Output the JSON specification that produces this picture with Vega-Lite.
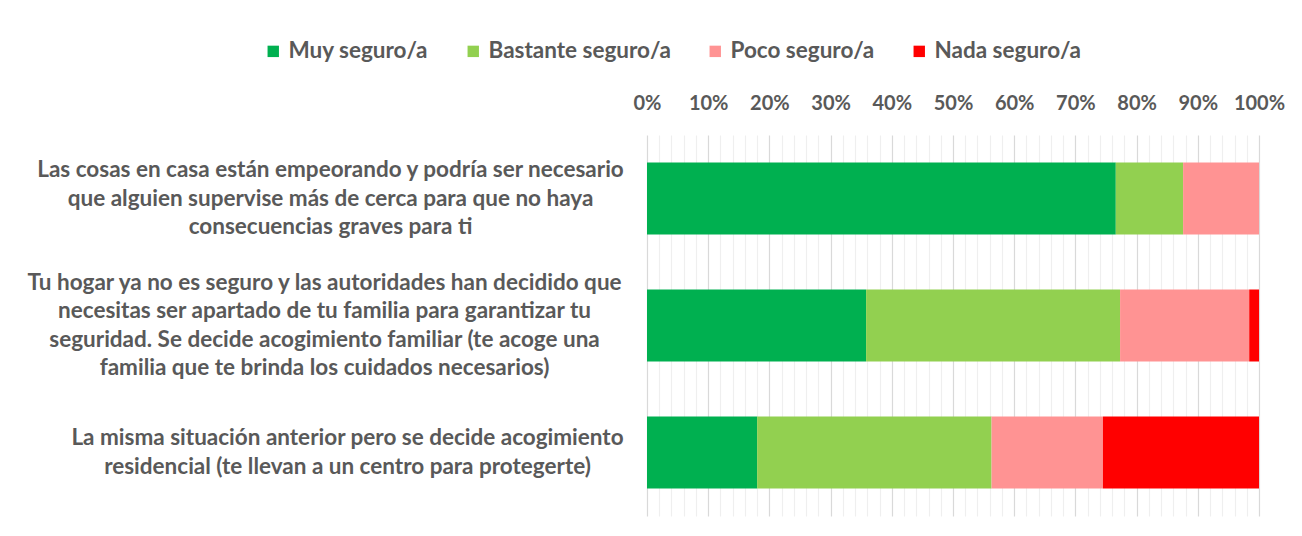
{
  "$schema": "https://vega.github.io/schema/vega-lite/v6.json",
  "autosize": "none",
  "width": 612,
  "height": 381,
  "padding": {"left": 647, "top": 135, "right": 43, "bottom": 20},
  "background": "white",
  "config": {"view": {"stroke": null}, "font": "Lato"},
  "data": {
    "values": [
      {"q": "Las cosas en casa están empeorando y podría ser necesario|que alguien supervise más de cerca para que no haya|consecuencias graves para ti", "cat": "Muy seguro/a", "v": 0.766},
      {"q": "Las cosas en casa están empeorando y podría ser necesario|que alguien supervise más de cerca para que no haya|consecuencias graves para ti", "cat": "Bastante seguro/a", "v": 0.110},
      {"q": "Las cosas en casa están empeorando y podría ser necesario|que alguien supervise más de cerca para que no haya|consecuencias graves para ti", "cat": "Poco seguro/a", "v": 0.124},
      {"q": "Las cosas en casa están empeorando y podría ser necesario|que alguien supervise más de cerca para que no haya|consecuencias graves para ti", "cat": "Nada seguro/a", "v": 0.0},
      {"q": "Tu hogar ya no es seguro y las autoridades han decidido que|necesitas ser apartado de tu familia para garantizar tu|seguridad. Se decide acogimiento familiar (te acoge una|familia que te brinda los cuidados necesarios)", "cat": "Muy seguro/a", "v": 0.358},
      {"q": "Tu hogar ya no es seguro y las autoridades han decidido que|necesitas ser apartado de tu familia para garantizar tu|seguridad. Se decide acogimiento familiar (te acoge una|familia que te brinda los cuidados necesarios)", "cat": "Bastante seguro/a", "v": 0.415},
      {"q": "Tu hogar ya no es seguro y las autoridades han decidido que|necesitas ser apartado de tu familia para garantizar tu|seguridad. Se decide acogimiento familiar (te acoge una|familia que te brinda los cuidados necesarios)", "cat": "Poco seguro/a", "v": 0.211},
      {"q": "Tu hogar ya no es seguro y las autoridades han decidido que|necesitas ser apartado de tu familia para garantizar tu|seguridad. Se decide acogimiento familiar (te acoge una|familia que te brinda los cuidados necesarios)", "cat": "Nada seguro/a", "v": 0.016},
      {"q": "La misma situación anterior pero se decide acogimiento|residencial (te llevan a un centro para protegerte)", "cat": "Muy seguro/a", "v": 0.180},
      {"q": "La misma situación anterior pero se decide acogimiento|residencial (te llevan a un centro para protegerte)", "cat": "Bastante seguro/a", "v": 0.383},
      {"q": "La misma situación anterior pero se decide acogimiento|residencial (te llevan a un centro para protegerte)", "cat": "Poco seguro/a", "v": 0.182},
      {"q": "La misma situación anterior pero se decide acogimiento|residencial (te llevan a un centro para protegerte)", "cat": "Nada seguro/a", "v": 0.255}
    ]
  },
  "transform": [
    {"calculate": "indexof(['Muy seguro/a', 'Bastante seguro/a', 'Poco seguro/a', 'Nada seguro/a'], datum.cat)", "as": "stackOrder"}
  ],
  "mark": {"type": "bar"},
  "encoding": {
    "y": {
      "field": "q",
      "type": "nominal",
      "sort": null,
      "scale": {"paddingInner": 0.433},
      "axis": {
        "title": null,
        "domain": false,
        "ticks": false,
        "labelExpr": "split(datum.label, '|')",
        "labelAlign": "center",
        "labelBaseline": "middle",
        "labelPadding": {"condition": [
          {"test": "indexof(datum.value, 'La misma') == 0", "value": 300},
          {"test": "indexof(datum.value, 'Tu hogar') == 0", "value": 323}
        ], "value": 317},
        "labelOffset": {"condition": [
          {"test": "indexof(datum.value, 'La misma') == 0", "value": -14.25},
          {"test": "indexof(datum.value, 'Tu hogar') == 0", "value": -42.75}
        ], "value": -28.5},
        "labelLimit": 0,
        "labelFont": "Lato",
        "labelFontWeight": "bold",
        "labelFontSize": 22.5,
        "labelColor": "#595959",
        "labelLineHeight": 28.5
      }
    },
    "x": {
      "field": "v",
      "type": "quantitative",
      "stack": "zero",
      "scale": {"domain": [0, 1], "nice": false},
      "axis": {
        "orient": "top",
        "title": null,
        "domain": false,
        "ticks": false,
        "tickSize": 0,
        "values": [0,0.02,0.04,0.06,0.08,0.1,0.12,0.14,0.16,0.18,0.2,0.22,0.24,0.26,0.28,0.3,0.32,0.34,0.36,0.38,0.4,0.42,0.44,0.46,0.48,0.5,0.52,0.54,0.56,0.58,0.6,0.62,0.64,0.66,0.68,0.7,0.72,0.74,0.76,0.78,0.8,0.82,0.84,0.86,0.88,0.9,0.92,0.94,0.96,0.98,1],
        "labelExpr": "round(datum.value*100) % 10 == 0 ? format(datum.value, '.0%') : ''",
        "labelFont": "Lato",
        "labelFontWeight": "bold",
        "labelFontSize": 20,
        "labelColor": "#595959",
        "labelPadding": 22,
        "labelOverlap": false,
        "labelFlush": false,
        "grid": true,
        "gridColor": {"condition": {"test": "round(datum.value*100) % 10 == 0", "value": "#d9d9d9"}, "value": "#efefef"},
        "gridWidth": 1.2
      }
    },
    "order": {"field": "stackOrder", "type": "quantitative", "sort": "ascending"},
    "color": {
      "field": "cat",
      "type": "nominal",
      "sort": ["Muy seguro/a", "Bastante seguro/a", "Poco seguro/a", "Nada seguro/a"],
      "scale": {
        "domain": ["Muy seguro/a", "Bastante seguro/a", "Poco seguro/a", "Nada seguro/a"],
        "range": ["#00B050", "#92D050", "#FF9393", "#FF0000"]
      },
      "legend": {
        "title": null,
        "orient": "none",
        "direction": "horizontal",
        "legendX": -385,
        "legendY": -95,
        "symbolType": "square",
        "symbolSize": 130,
        "symbolStrokeWidth": 0,
        "labelFont": "Lato",
        "labelFontWeight": "bold",
        "labelFontSize": 22.5,
        "labelColor": "#595959",
        "labelOffset": 4,
        "columnPadding": 33,
        "labelLimit": 0
      }
    }
  }
}
